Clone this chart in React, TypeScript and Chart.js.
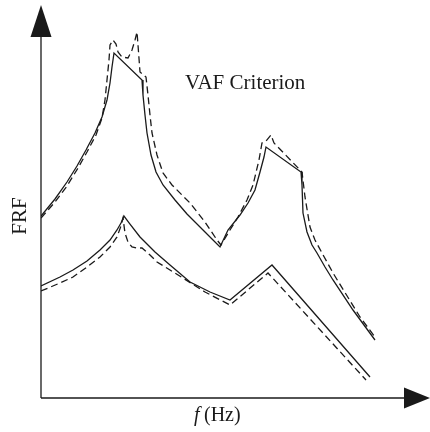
import React, { useEffect, useRef } from "react";
import { Chart, registerables } from "chart.js";

Chart.register(...registerables);

// Frequency axis (Hz, arbitrary scale 0-200) and FRF magnitude (arbitrary scale 0-100)
const upperSolidF = [0, 7.2, 13.37, 18.51, 23.14, 27.76, 31.36, 33.93, 35.48, 36.5, 37.53, 51.93, 52.44, 53.47, 54.5, 56.56, 59.13, 62.73, 68.89, 75.06, 81.75, 87.92, 92.03, 96.14, 102.31, 106.43, 110.02, 112.6, 114.65, 115.68, 133.68, 134.19, 134.7, 136.76, 139.33, 141.9, 146.02, 150.13, 160.41, 171.72];
const upperSolidV = [46.31, 50.64, 54.96, 59.03, 63.1, 67.43, 71.5, 75.83, 80.15, 84.22, 87.79, 80.92, 77.1, 72.01, 67.43, 61.83, 57.51, 54.2, 50.38, 46.82, 43.51, 40.46, 38.42, 42.75, 46.56, 49.62, 52.93, 57.51, 61.32, 63.87, 57.51, 54.2, 47.07, 42.24, 38.93, 36.9, 33.33, 30.03, 22.39, 14.76];

const upperDashedF = [0, 7.2, 13.37, 19.02, 23.65, 28.28, 31.36, 32.9, 33.93, 34.96, 35.48, 37.02, 38.56, 39.59, 41.65, 44.73, 46.79, 48.33, 49.36, 49.87, 50.9, 53.98, 55.01, 56.04, 57.07, 59.64, 62.73, 67.35, 76.61, 84.32, 90.49, 92.54, 97.17, 101.29, 105.91, 109.0, 112.08, 113.62, 115.68, 118.25, 119.79, 134.19, 135.73, 138.3, 140.87, 144.47, 150.13, 164.01, 171.72];
const upperDashedV = [45.8, 49.87, 53.94, 58.52, 62.6, 66.92, 71.25, 75.83, 80.92, 86.01, 89.82, 91.09, 90.08, 88.04, 86.77, 86.51, 88.55, 91.09, 93.13, 89.82, 82.95, 81.68, 77.1, 72.01, 67.43, 61.83, 57.25, 54.2, 49.62, 44.78, 40.2, 38.93, 42.75, 46.06, 50.38, 54.2, 60.56, 64.89, 65.39, 66.92, 64.89, 57.51, 51.15, 43.51, 40.2, 36.9, 31.81, 20.61, 15.52];

const lowerSolidF = [0, 9.77, 16.45, 23.65, 30.33, 35.48, 39.07, 41.13, 42.67, 45.76, 50.9, 58.61, 66.32, 76.61, 86.89, 97.17, 118.77, 169.15];
const lowerSolidV = [28.5, 30.79, 32.57, 34.86, 37.66, 40.2, 42.75, 44.53, 46.31, 44.27, 40.97, 37.15, 33.84, 29.52, 26.97, 24.94, 33.84, 5.34];

const lowerDashedF = [0, 9.77, 16.45, 23.65, 30.33, 35.48, 39.07, 41.13, 42.16, 43.19, 44.73, 46.79, 49.36, 51.93, 56.04, 59.64, 66.32, 73.01, 84.32, 97.17, 116.71, 167.1];
const lowerDashedV = [27.23, 29.26, 30.79, 33.33, 35.88, 38.42, 40.97, 43.77, 45.8, 41.98, 39.69, 38.42, 38.17, 38.17, 36.39, 34.61, 32.57, 30.53, 26.97, 23.66, 31.81, 4.58];

const annotationText = "VAF Criterion";
const yTitle = "FRF";
const xTitleItalic = "f";
const xTitleRest = "(Hz)";

const toPts = (xs: number[], ys: number[]) => xs.map((x, i) => ({ x, y: ys[i] }));

export default function App() {
  const ref = useRef<HTMLCanvasElement>(null);

  useEffect(() => {
    if (!ref.current) return;
    const ink = "#1a1a1a";
    const decor = {
      id: "decor",
      afterDraw(chart: any) {
        const ctx = chart.ctx as CanvasRenderingContext2D;
        const a = chart.chartArea;
        ctx.save();
        ctx.strokeStyle = ink;
        ctx.fillStyle = ink;
        ctx.lineWidth = 1.3;
        ctx.setLineDash([]);
        // y axis
        ctx.beginPath();
        ctx.moveTo(a.left, a.bottom);
        ctx.lineTo(a.left, a.top + 32);
        ctx.stroke();
        ctx.beginPath();
        ctx.moveTo(a.left - 10.5, a.top + 32);
        ctx.lineTo(a.left + 10.5, a.top + 32);
        ctx.lineTo(a.left, a.top);
        ctx.closePath();
        ctx.fill();
        // x axis
        ctx.beginPath();
        ctx.moveTo(a.left, a.bottom);
        ctx.lineTo(a.right - 26, a.bottom);
        ctx.stroke();
        ctx.beginPath();
        ctx.moveTo(a.right - 26, a.bottom - 10.5);
        ctx.lineTo(a.right - 26, a.bottom + 10.5);
        ctx.lineTo(a.right, a.bottom);
        ctx.closePath();
        ctx.fill();
        // texts
        ctx.textBaseline = "alphabetic";
        ctx.textAlign = "left";
        ctx.font = '21px "Liberation Serif"';
        ctx.fillText(annotationText, 185, 89);
        ctx.font = 'italic 20px "Liberation Serif"';
        ctx.fillText(xTitleItalic, 194, 421);
        ctx.font = '20px "Liberation Serif"';
        ctx.fillText(xTitleRest, 204, 421);
        ctx.save();
        ctx.translate(26, 216);
        ctx.rotate(-Math.PI / 2);
        ctx.textAlign = "center";
        ctx.font = '21px "Liberation Serif"';
        ctx.fillText(yTitle, 0, 0);
        ctx.restore();
        ctx.restore();
      },
    };

    const solid = { borderColor: ink, borderWidth: 1.3, pointRadius: 0, tension: 0, fill: false, borderDash: [] as number[] };
    const dashed = { borderColor: ink, borderWidth: 1.3, pointRadius: 0, tension: 0, fill: false, borderDash: [7, 4] };

    const chart = new Chart(ref.current, {
      type: "line",
      data: {
        datasets: [
          { label: "Upper measured", data: toPts(upperSolidF, upperSolidV), ...solid },
          { label: "Upper identified", data: toPts(upperDashedF, upperDashedV), ...dashed },
          { label: "Lower measured", data: toPts(lowerSolidF, lowerSolidV), ...solid },
          { label: "Lower identified", data: toPts(lowerDashedF, lowerDashedV), ...dashed },
        ],
      },
      options: {
        animation: false,
        responsive: false,
        layout: { padding: { left: 41, right: 0, top: 5, bottom: 34 } },
        plugins: { legend: { display: false }, tooltip: { enabled: false } },
        scales: {
          x: { type: "linear", min: 0, max: 200, display: false },
          y: { type: "linear", min: 0, max: 100, display: false },
        },
      },
      plugins: [decor],
    });
    return () => chart.destroy();
  }, []);

  return (
    <div style={{ position: "absolute", left: 0, top: 0, width: 430, height: 432, background: "#fff" }}>
      <canvas ref={ref} width={430} height={432} />
    </div>
  );
}
